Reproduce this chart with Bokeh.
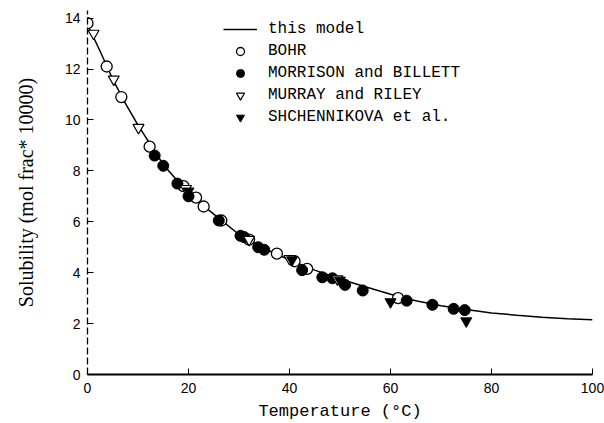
from bokeh.plotting import figure
from bokeh.models import Legend, LegendItem, Range1d, FixedTicker
from bokeh.embed import file_html
from bokeh.resources import INLINE

# model curve
model_t = [0, 2.5, 5, 7.5, 10, 15, 20, 25, 30, 35, 40, 45, 50, 55, 60, 65, 70, 75, 80, 85, 90, 95, 100]
model_s = [13.75, 12.7, 11.6, 10.65, 9.8, 8.25, 7.1, 6.3, 5.5, 4.95, 4.5, 4.1, 3.75, 3.45, 3.15, 2.9, 2.7, 2.55, 2.42, 2.33, 2.25, 2.19, 2.15]

bohr_t = [0, 3.8, 6.7, 12.3, 19, 21.5, 23, 26.5, 32, 37.5, 41, 43.5, 61.5]
bohr_s = [13.8, 12.1, 10.9, 8.95, 7.4, 6.95, 6.6, 6.05, 5.3, 4.75, 4.45, 4.15, 3.0]

morr_t = [13.3, 15, 17.8, 20, 26, 30.3, 31, 33.8, 35, 42.5, 46.5, 48.5, 51, 54.5, 63.2, 68.3, 72.5, 74.7]
morr_s = [8.6, 8.2, 7.5, 7.0, 6.05, 5.45, 5.4, 5.0, 4.9, 4.1, 3.82, 3.78, 3.52, 3.3, 2.9, 2.74, 2.58, 2.53]

murr_t = [1.2, 5.2, 10.1, 19.5, 32, 40, 49.5]
murr_s = [13.4, 11.6, 9.7, 7.3, 5.3, 4.55, 3.75]

shch_t = [20, 40.5, 50, 60, 75]
shch_s = [7.2, 4.5, 3.7, 2.85, 2.1]

x_ticks = [0, 20, 40, 60, 80, 100]
y_ticks = [0, 2, 4, 6, 8, 10, 12, 14]

p = figure(width=604, height=423, output_backend="svg", toolbar_location=None,
           x_range=Range1d(0, 100), y_range=Range1d(0, 14.3),
           min_border_left=87, min_border_right=12, min_border_top=10, min_border_bottom=46)
p.outline_line_color = None
p.xgrid.grid_line_color = None
p.ygrid.grid_line_color = None
p.background_fill_color = "white"
p.border_fill_color = "white"

mono = "Liberation Mono"

l0 = p.line(model_t, model_s, line_color="black", line_width=1.5)
r1 = p.scatter(bohr_t, bohr_s, marker="circle", size=11, fill_color="white", line_color="black", line_width=1.3)
r2 = p.scatter(morr_t, morr_s, marker="circle", size=11, fill_color="black", line_color="black")
r3 = p.scatter(murr_t, murr_s, marker="inverted_triangle", size=11, fill_color="white", line_color="black", line_width=1.2)
r4 = p.scatter(shch_t, shch_s, marker="inverted_triangle", size=11, fill_color="black", line_color="black")

legend = Legend(items=[
    LegendItem(label="this model", renderers=[l0]),
    LegendItem(label="BOHR", renderers=[r1]),
    LegendItem(label="MORRISON and BILLETT", renderers=[r2]),
    LegendItem(label="MURRAY and RILEY", renderers=[r3]),
    LegendItem(label="SHCHENNIKOVA et al.", renderers=[r4]),
], location=(136, 247))
legend.border_line_color = None
legend.background_fill_alpha = 0
legend.padding = 0
legend.margin = 0
legend.spacing = 2
legend.glyph_width = 34
legend.glyph_height = 20
legend.label_height = 20
legend.label_standoff = 11
legend.label_text_font = mono
legend.label_text_font_size = "16px"
legend.label_text_color = "black"
p.add_layout(legend, "center")

xa = p.xaxis[0]
xa.ticker = FixedTicker(ticks=x_ticks)
xa.minor_tick_line_color = None
xa.major_tick_in = 6
xa.major_tick_out = 0
xa.axis_line_width = 2
xa.axis_line_color = "black"
xa.major_tick_line_color = "black"
xa.major_label_text_font = "Liberation Sans"
xa.major_label_text_font_size = "14px"
xa.major_label_text_color = "black"
xa.major_label_standoff = 8
xa.axis_label = "Temperature (°C)"
xa.axis_label_text_font = mono
xa.axis_label_text_font_size = "17px"
xa.axis_label_text_font_style = "normal"
xa.axis_label_text_color = "black"
xa.axis_label_standoff = 6

ya = p.yaxis[0]
ya.ticker = FixedTicker(ticks=y_ticks)
ya.minor_tick_line_color = None
ya.major_tick_in = 6
ya.major_tick_out = 0
ya.axis_line_width = 1.3
ya.axis_line_color = "black"
ya.axis_line_dash = "7 3"
ya.major_tick_line_color = "black"
ya.major_label_text_font = "Liberation Sans"
ya.major_label_text_font_size = "14px"
ya.major_label_text_color = "black"
ya.major_label_standoff = 7
ya.axis_label = "Solubility (mol frac* 10000)"
ya.axis_label_text_font = "Liberation Serif"
ya.axis_label_text_font_size = "20px"
ya.axis_label_text_font_style = "normal"
ya.axis_label_text_color = "black"
ya.axis_label_standoff = 25

open("out.html", "w").write(file_html(p, INLINE))
